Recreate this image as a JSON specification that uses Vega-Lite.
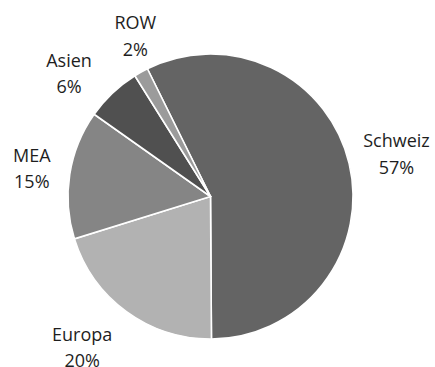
{
  "$schema": "https://vega.github.io/schema/vega-lite/v6.json",
  "width": 421,
  "height": 341,
  "autosize": "none",
  "padding": {"left": 0, "right": 14, "top": 26, "bottom": 0},
  "background": "white",
  "view": {"stroke": null},
  "data": {
    "values": [
      {"region": "Schweiz", "value": 57.2, "idx": 1, "label": "Schweiz\n57%"},
      {"region": "Europa", "value": 20.3, "idx": 2, "label": "Europa\n20%"},
      {"region": "MEA", "value": 14.6, "idx": 3, "label": "MEA\n15%"},
      {"region": "Asien", "value": 6.3, "idx": 4, "label": "Asien\n6%"},
      {"region": "ROW", "value": 1.6, "idx": 5, "label": "ROW\n2%"}
    ]
  },
  "encoding": {
    "theta": {"field": "value", "type": "quantitative", "stack": true, "scale": {"range": [-0.459, 5.8242]}},
    "order": {"field": "idx", "type": "quantitative", "sort": "ascending"},
    "text": {"field": "label", "type": "nominal"}
  },
  "layer": [
    {
      "mark": {"type": "arc", "radius": 142.5, "stroke": "white", "strokeWidth": 1.6},
      "encoding": {
        "color": {
          "field": "region",
          "type": "nominal",
          "legend": null,
          "scale": {
            "domain": ["Schweiz", "Europa", "MEA", "Asien", "ROW"],
            "range": ["#646464", "#b2b2b2", "#858585", "#505050", "#9b9b9b"]
          }
        }
      }
    },
    {
      "mark": {"type": "text", "radius": 187, "dx": 4, "dy": -11, "font": "Open Sans", "fontSize": 18, "lineBreak": "\n", "lineHeight": 26.5, "align": "center", "baseline": "middle", "color": "#1e1e1e"},
      "encoding": {"opacity": {"condition": {"test": "datum.region === 'Schweiz'", "value": 1}, "value": 0}}
    },
    {
      "mark": {"type": "text", "radius": 187, "dx": -18, "dy": -11.5, "font": "Open Sans", "fontSize": 18, "lineBreak": "\n", "lineHeight": 26.5, "align": "center", "baseline": "middle", "color": "#1e1e1e"},
      "encoding": {"opacity": {"condition": {"test": "datum.region === 'Europa'", "value": 1}, "value": 0}}
    },
    {
      "mark": {"type": "text", "radius": 187, "dx": 6, "dy": -10.5, "font": "Open Sans", "fontSize": 18, "lineBreak": "\n", "lineHeight": 26.5, "align": "center", "baseline": "middle", "color": "#1e1e1e"},
      "encoding": {"opacity": {"condition": {"test": "datum.region === 'MEA'", "value": 1}, "value": 0}}
    },
    {
      "mark": {"type": "text", "radius": 187, "dx": -13, "dy": 1, "font": "Open Sans", "fontSize": 18, "lineBreak": "\n", "lineHeight": 26.5, "align": "center", "baseline": "middle", "color": "#1e1e1e"},
      "encoding": {"opacity": {"condition": {"test": "datum.region === 'Asien'", "value": 1}, "value": 0}}
    },
    {
      "mark": {"type": "text", "radius": 187, "dx": 16, "dy": -9, "font": "Open Sans", "fontSize": 18, "lineBreak": "\n", "lineHeight": 26.5, "align": "center", "baseline": "middle", "color": "#1e1e1e"},
      "encoding": {"opacity": {"condition": {"test": "datum.region === 'ROW'", "value": 1}, "value": 0}}
    }
  ]
}
